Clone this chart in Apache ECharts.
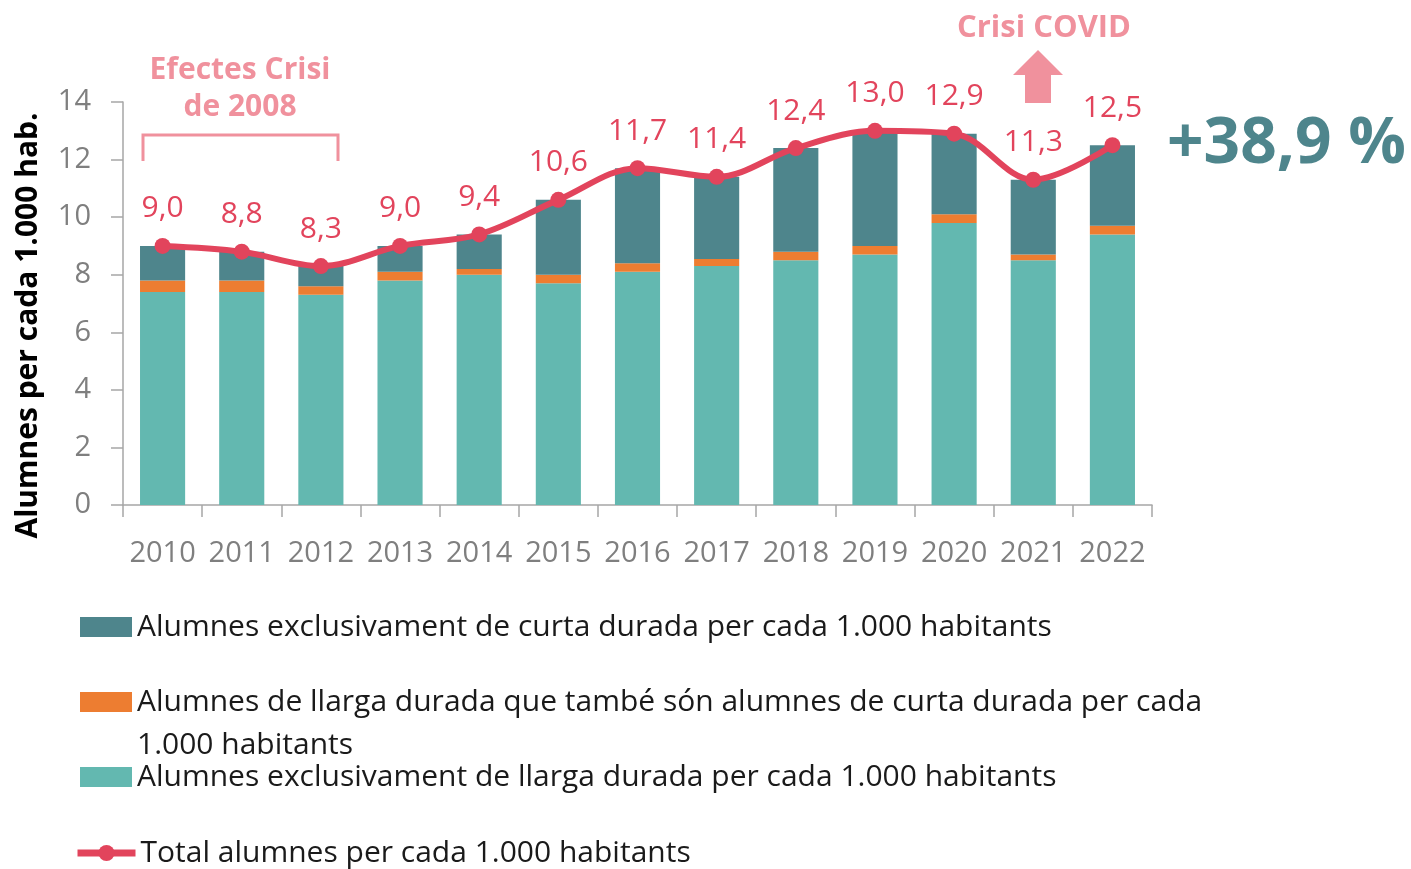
<!DOCTYPE html>
<html>
<head>
<meta charset="utf-8">
<script src="https://cdn.jsdelivr.net/npm/echarts@6/dist/echarts.min.js"></script>
<style>
  html, body { margin: 0; padding: 0; background: #fff; }
  #chart { width: 1411px; height: 869px; }
</style>
</head>
<body>
<div id="chart"></div>
<script>
const years = ['2010', '2011', '2012', '2013', '2014', '2015', '2016', '2017', '2018', '2019', '2020', '2021', '2022'];
const llargaExclusiva = [7.4, 7.4, 7.3, 7.8, 8.0, 7.7, 8.1, 8.3, 8.5, 8.7, 9.8, 8.5, 9.4];
const llargaICurta = [0.4, 0.4, 0.3, 0.3, 0.2, 0.3, 0.3, 0.25, 0.3, 0.3, 0.3, 0.2, 0.3];
const curtaExclusiva = [1.2, 1.0, 0.7, 0.9, 1.2, 2.6, 3.3, 2.85, 3.6, 4.0, 2.8, 2.6, 2.8];
const total = [9.0, 8.8, 8.3, 9.0, 9.4, 10.6, 11.7, 11.4, 12.4, 13.0, 12.9, 11.3, 12.5];

const NAME_CURTA = 'Alumnes exclusivament de curta durada per cada 1.000 habitants';
const NAME_MIX = 'Alumnes de llarga durada que també són alumnes de curta durada per cada 1.000 habitants';
const NAME_LLARGA = 'Alumnes exclusivament de llarga durada per cada 1.000 habitants';
const NAME_TOTAL = 'Total alumnes per cada 1.000 habitants';

const COLORS = {
  curta: '#4e858c',
  mix: '#ed7d31',
  llarga: '#63b8b0',
  total: '#e2445c',
  note: '#f0919d',
  axis: '#a6a6a6',
  label: '#7f7f7f'
};
const FONT = '"Open Sans", "Noto Sans", sans-serif';
const LEGEND_FONT = 30;

const chart = echarts.init(document.getElementById('chart'));

function legendAt(name, top, extra) {
  return Object.assign({
    data: [name],
    left: 80,
    top: top,
    padding: 0,
    orient: 'vertical',
    icon: 'rect',
    itemWidth: 52,
    itemHeight: 20,
    itemGap: 0,
    selectedMode: false,
    textStyle: { color: '#1a1a1a', fontSize: LEGEND_FONT, fontFamily: FONT }
  }, extra || {});
}

const option = {
  animation: false,
  backgroundColor: '#fff',
  grid: { left: 123, right: 259, top: 102, bottom: 364 },
  xAxis: {
    type: 'category',
    data: years,
    boundaryGap: true,
    axisLine: { lineStyle: { color: COLORS.axis, width: 1.5 } },
    axisTick: { show: true, length: 12, lineStyle: { color: COLORS.axis, width: 1.5 } },
    axisLabel: { interval: 0, color: COLORS.label, fontSize: 29, fontFamily: FONT, margin: 34 }
  },
  yAxis: {
    type: 'value',
    min: 0,
    max: 14,
    interval: 2,
    name: 'Alumnes per cada 1.000 hab.',
    nameLocation: 'middle',
    nameGap: 80,
    nameTextStyle: { color: '#000', fontSize: 30, fontWeight: 'bold', fontFamily: FONT, padding: [0, 44, 0, 0] },
    axisLine: { show: true, lineStyle: { color: COLORS.axis, width: 1.5 } },
    axisTick: { show: true, length: 12, lineStyle: { color: COLORS.axis, width: 1.5 } },
    splitLine: { show: false },
    axisLabel: { color: COLORS.label, fontSize: 29, fontFamily: FONT, margin: 32 }
  },
  legend: [
    legendAt(NAME_CURTA, 612),
    legendAt(NAME_MIX, 687, {
      formatter: () => 'Alumnes de llarga durada que també són alumnes de curta durada per cada'
    }),
    legendAt(NAME_LLARGA, 762),
    legendAt(NAME_TOTAL, 838, {
      left: 74,
      icon: null,
      itemWidth: 58,
      itemHeight: 20,
      lineStyle: { width: 7 }
    })
  ],
  series: [
    {
      name: NAME_LLARGA, type: 'bar', stack: 'a', data: llargaExclusiva,
      barWidth: '57%', itemStyle: { color: COLORS.llarga }
    },
    {
      name: NAME_MIX, type: 'bar', stack: 'a', data: llargaICurta,
      itemStyle: { color: COLORS.mix }
    },
    {
      name: NAME_CURTA, type: 'bar', stack: 'a', data: curtaExclusiva,
      itemStyle: { color: COLORS.curta }
    },
    {
      name: NAME_TOTAL, type: 'line', data: total, smooth: 0.35,
      symbol: 'circle', symbolSize: 16, z: 5,
      lineStyle: { color: COLORS.total, width: 6 },
      itemStyle: { color: COLORS.total },
      label: {
        show: true, position: 'top', distance: 14,
        color: COLORS.total, fontSize: 30, fontFamily: FONT,
        formatter: p => p.value.toFixed(1).replace('.', ',')
      }
    }
  ],
  graphic: [
    {
      type: 'text',
      style: {
        text: '1.000 habitants', x: 137, y: 745, verticalAlign: 'middle',
        fill: '#1a1a1a', fontSize: LEGEND_FONT, fontFamily: FONT
      }
    },
    {
      type: 'text',
      style: {
        text: 'Efectes Crisi\nde 2008', x: 240, y: 89, align: 'center', verticalAlign: 'middle',
        fill: COLORS.note, fontSize: 30, fontWeight: 'bold', fontFamily: FONT, lineHeight: 37
      }
    },
    {
      type: 'polyline',
      shape: { points: [[143, 161], [143, 135], [338, 135], [338, 161]] },
      style: { stroke: COLORS.note, lineWidth: 3, fill: null }
    },
    {
      type: 'text',
      style: {
        text: 'Crisi COVID', x: 1044, y: 28, align: 'center', verticalAlign: 'middle',
        fill: COLORS.note, fontSize: 31, fontWeight: 'bold', fontFamily: FONT
      }
    },
    {
      type: 'polygon',
      shape: { points: [[1038, 50], [1063, 75], [1051, 75], [1051, 103], [1025, 103], [1025, 75], [1013, 75]] },
      style: { fill: COLORS.note }
    },
    {
      type: 'text',
      style: {
        text: '+38,9 %', x: 1167, y: 145, verticalAlign: 'middle',
        fill: COLORS.curta, fontSize: 64, fontWeight: 'bold', fontFamily: FONT
      }
    }
  ]
};

chart.setOption(option);
</script>
</body>
</html>
